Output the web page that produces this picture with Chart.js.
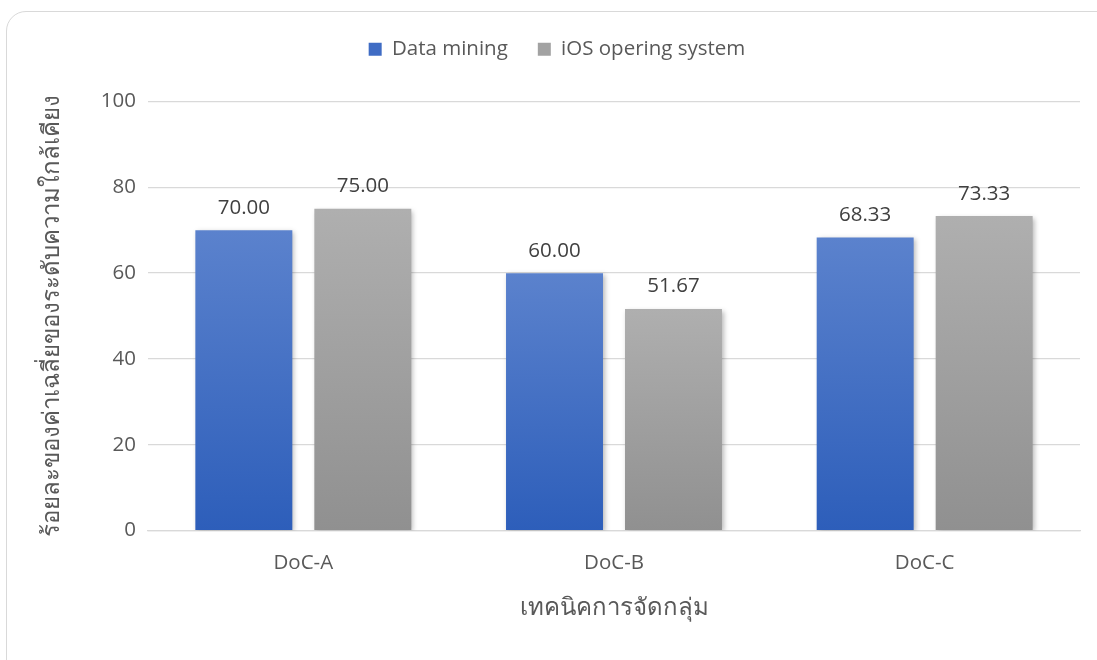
<!DOCTYPE html>
<html lang="th">
<head>
<meta charset="UTF-8">
<title>เทคนิคการจัดกลุ่ม</title>
<script src="https://cdn.jsdelivr.net/npm/chart.js"></script>
<style>
  html, body { margin: 0; padding: 0; background: #fff; overflow: hidden; }
  #frame {
    position: absolute; left: 6px; top: 11px; width: 1120px; height: 680px;
    border: 1.5px solid #d9d9d9; border-radius: 20px; box-sizing: border-box;
  }
  #wrap { position: absolute; left: 0; top: 0; width: 1097px; height: 660px; }
</style>
</head>
<body>
<div id="frame"></div>
<div id="wrap"><canvas id="chart" width="1097" height="660"></canvas></div>
<script>
const categories = ["DoC-A", "DoC-B", "DoC-C"]
const dataMining = [70.00, 60.00, 68.33]
const iosSystem = [75.00, 51.67, 73.33]
const yTicks = [0, 20, 40, 60, 80, 100]

const FONT = "'Open Sans', 'Noto Sans', sans-serif"
const TEXT = "#595959"

// vertical gradient spanning each bar, from its top down to zero
function barGradient(top, bottom) {
  return (context) => {
    const chart = context.chart
    if (!chart.chartArea || context.raw === undefined) return top
    const y = chart.scales.y
    const y0 = y.getPixelForValue(context.raw)
    const y1 = y.getPixelForValue(0)
    const g = chart.ctx.createLinearGradient(0, y0, 0, y1)
    g.addColorStop(0, top)
    g.addColorStop(1, bottom)
    return g
  }
}

// extra room under the legend
const legendGap = {
  id: "legendGap",
  beforeInit(chart) {
    const fit = chart.legend.fit
    chart.legend.fit = function () {
      fit.call(this)
      this.height += 32
    }
  }
}

// soft drop shadow under the bars
const barShadow = {
  id: "barShadow",
  beforeDatasetDraw(chart) {
    const ctx = chart.ctx
    ctx.save()
    ctx.shadowColor = "rgba(0,0,0,0.28)"
    ctx.shadowBlur = 5
    ctx.shadowOffsetX = 2
    ctx.shadowOffsetY = 2
  },
  afterDatasetDraw(chart) {
    chart.ctx.restore()
  }
}

// value labels above each bar
const valueLabels = {
  id: "valueLabels",
  afterDatasetsDraw(chart) {
    const ctx = chart.ctx
    ctx.save()
    ctx.font = "20.5px " + FONT
    ctx.fillStyle = "#404040"
    ctx.textAlign = "center"
    ctx.textBaseline = "bottom"
    chart.data.datasets.forEach((ds, i) => {
      chart.getDatasetMeta(i).data.forEach((bar, j) => {
        ctx.fillText(ds.data[j].toFixed(2), bar.x, bar.y - 12)
      })
    })
    ctx.restore()
  }
}

new Chart(document.getElementById("chart"), {
  type: "bar",
  data: {
    labels: categories,
    datasets: [
      {
        label: "Data mining",
        data: dataMining,
        backgroundColor: barGradient("#5b82cd", "#2d5eba")
      },
      {
        label: "iOS opering system",
        data: iosSystem,
        backgroundColor: barGradient("#afafaf", "#909090")
      }
    ]
  },
  options: {
    responsive: false,
    animation: false,
    categoryPercentage: 0.766,
    barPercentage: 0.815,
    layout: { padding: { top: 9, left: 34, right: 17, bottom: 33 } },
    plugins: {
      tooltip: { enabled: false },
      legend: {
        position: "top",
        labels: {
          color: TEXT,
          font: { family: FONT, size: 20.5 },
          boxWidth: 13,
          boxHeight: 13,
          padding: 30,
          generateLabels(chart) {
            const fills = ["#3f6cc4", "#a2a2a2"]
            return chart.data.datasets.map((ds, i) => ({
              text: ds.label,
              fillStyle: fills[i],
              strokeStyle: fills[i],
              lineWidth: 0,
              fontColor: TEXT,
              datasetIndex: i
            }))
          }
        }
      }
    },
    scales: {
      x: {
        grid: { display: false },
        border: { color: "#d9d9d9", width: 1.3 },
        ticks: { color: TEXT, font: { family: FONT, size: 20.5 }, padding: 12 },
        title: {
          display: true,
          text: "เทคนิคการจัดกลุ่ม",
          color: TEXT,
          font: { family: FONT, size: 24 },
          padding: { top: 7 }
        }
      },
      y: {
        min: 0,
        max: 100,
        afterBuildTicks(scale) {
          scale.ticks = yTicks.map((v) => ({ value: v }))
        },
        afterFit(scale) {
          scale.width = 114
        },
        grid: { color: "#d9d9d9", lineWidth: 1.3, drawTicks: false },
        border: { display: false },
        ticks: { color: TEXT, font: { family: FONT, size: 20.5 }, padding: 12 },
        title: {
          display: true,
          text: "ร้อยละของค่าเฉลี่ยของระดับความใกล้เคียง",
          color: TEXT,
          font: { family: FONT, size: 24 },
          padding: { top: 4, bottom: 10 }
        }
      }
    }
  },
  plugins: [legendGap, barShadow, valueLabels]
})
</script>
</body>
</html>
